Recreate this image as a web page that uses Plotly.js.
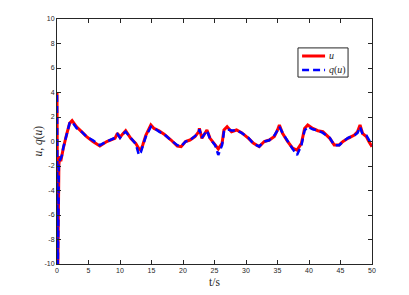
<!DOCTYPE html>
<html>
<head>
<meta charset="utf-8">
<script src="https://cdn.plot.ly/plotly-3.0.1.min.js"></script>
<style>
html,body{margin:0;padding:0;background:#fff;}
#chart{width:409px;height:295px;}
</style>
</head>
<body>
<div id="chart"></div>
<script>
var tValues = [0, 0.12, 0.3, 0.45, 0.6, 0.8, 1.0, 1.5, 2.0, 2.4, 3.1, 3.9, 4.7, 5.7, 6.8, 7.9, 9.2, 9.6, 10.0, 10.4, 10.9, 11.7, 12.5, 13.0, 13.3, 13.6, 14.1, 14.9, 15.4, 16.2, 17.0, 18.1, 19.1, 19.7, 20.4, 21.1, 21.9, 22.5, 22.6, 23.0, 23.8, 24.3, 25.1, 25.6, 26.2, 26.5, 27.0, 27.7, 28.5, 29.3, 30.4, 31.2, 32.1, 32.9, 33.7, 34.5, 35.0, 35.3, 35.8, 36.6, 37.4, 38.1, 38.8, 39.3, 39.8, 40.6, 41.4, 42.2, 43.3, 44.0, 44.8, 45.4, 46.2, 47.2, 47.7, 48.1, 48.5, 49.1, 49.5, 50.0];

var uValues = [4.0, -11, -1.9, -1.2, -1.6, -1.0, -0.55, 0.53, 1.48, 1.7, 1.2, 0.8, 0.4, 0.0, -0.37, 0.0, 0.26, 0.67, 0.34, 0.6, 0.88, 0.26, -0.15, -0.6, -0.7, -0.3, 0.5, 1.35, 1.07, 0.88, 0.6, 0.12, -0.37, -0.42, 0.0, 0.12, 0.4, 0.8, 1.07, 0.26, 0.94, 0.26, -0.28, -0.6, -0.15, 0.94, 1.2, 0.8, 0.94, 0.72, 0.26, -0.15, -0.42, 0.0, 0.12, 0.4, 0.94, 1.35, 0.67, 0.0, -0.55, -0.7, -0.15, 1.07, 1.35, 1.07, 0.88, 0.8, 0.26, -0.28, -0.28, 0.0, 0.26, 0.53, 0.8, 1.35, 0.67, 0.4, 0.0, -0.42];

var qValues = [3.8, -11, -1.6, -1.5, -1.4, -1.1, -0.5, 0.5, 1.5, 1.6, 1.1, 0.8, 0.4, 0.1, -0.3, 0.0, 0.3, 0.6, 0.3, 0.6, 0.8, 0.3, -0.2, -1.1, -0.9, -0.4, 0.4, 1.2, 1.1, 0.8, 0.6, 0.1, -0.3, -0.4, 0.0, 0.1, 0.4, 0.7, 1.0, 0.3, 0.9, 0.2, -0.3, -1.1, -0.3, 0.8, 1.0, 0.9, 0.9, 0.7, 0.3, -0.2, -0.4, 0.0, 0.1, 0.5, 0.9, 1.2, 0.7, 0.0, -0.6, -1.1, -0.3, 0.9, 1.2, 1.0, 0.9, 0.7, 0.3, -0.3, -0.3, 0.0, 0.3, 0.5, 0.7, 1.2, 0.6, 0.5, 0.1, -0.3];

var xTicks = [0, 5, 10, 15, 20, 25, 30, 35, 40, 45, 50];
var yTicks = [-10, -8, -6, -4, -2, 0, 2, 4, 6, 8, 10];
var seriesNames = ['<i>u</i>', '<i>q</i>(<i>u</i>)'];
var seriesColors = ['#ff0000', '#0000ff'];
var seriesDash = ['solid', '7px,4px'];
var yTitle = '<i>u</i>, <i>q</i>(<i>u</i>)';

var traces = [
  {x: tValues, y: uValues, type: 'scatter', mode: 'lines', name: seriesNames[0],
   line: {color: seriesColors[0], width: 3}},
  {x: tValues, y: qValues, type: 'scatter', mode: 'lines', name: seriesNames[1],
   line: {color: seriesColors[1], width: 2.5, dash: seriesDash[1]}}
];

var axisCommon = {
  showgrid: false, zeroline: false, showline: true, mirror: 'ticks',
  linecolor: '#262626', linewidth: 1, ticks: 'inside', ticklen: 4,
  tickcolor: '#262626', tickfont: {family: 'Liberation Sans, Arial, sans-serif', size: 7, color: '#262626'}
};

// manual legend box (paper coordinates)
var legBox = {x0: 0.765, x1: 0.924, y0: 0.763, y1: 0.882};
var legRows = [0.849, 0.792];
var shapes = [
  {type: 'rect', xref: 'paper', yref: 'paper', x0: legBox.x0, x1: legBox.x1, y0: legBox.y0, y1: legBox.y1,
   line: {color: '#262626', width: 1}, fillcolor: '#fff', layer: 'above'}
];
var annotations = [];
for (var i = 0; i < 2; i++) {
  shapes.push({type: 'line', xref: 'paper', yref: 'paper', x0: 0.778, x1: 0.851, y0: legRows[i], y1: legRows[i],
    line: {color: seriesColors[i], width: i === 0 ? 3 : 2.5, dash: seriesDash[i]}, layer: 'above'});
  annotations.push({xref: 'paper', yref: 'paper', x: 0.857, y: legRows[i], xanchor: 'left', yanchor: 'middle',
    text: seriesNames[i], showarrow: false,
    font: {family: 'Liberation Serif, serif', size: 10, color: '#262626'}});
}
annotations.push({xref: 'paper', yref: 'paper', x: 0, y: 0.5, xshift: -19, xanchor: 'center', yanchor: 'middle',
  textangle: -90, text: yTitle, showarrow: false,
  font: {family: 'Liberation Serif, serif', size: 11.5, color: '#262626'}});

var layout = {
  width: 409, height: 295,
  margin: {l: 57, r: 37, t: 19, b: 31},
  paper_bgcolor: '#fff', plot_bgcolor: '#fff',
  showlegend: false,
  xaxis: Object.assign({}, axisCommon, {
    range: [0, 50], tickvals: xTicks, ticktext: xTicks.map(String),
    title: {text: 't/s', font: {family: 'Liberation Serif, serif', size: 11.5, color: '#262626'}, standoff: 4}
  }),
  yaxis: Object.assign({}, axisCommon, {
    range: [-10, 10], tickvals: yTicks, ticktext: yTicks.map(String)
  }),
  shapes: shapes,
  annotations: annotations
};

Plotly.newPlot('chart', traces, layout, {displayModeBar: false, staticPlot: true});
</script>
</body>
</html>
